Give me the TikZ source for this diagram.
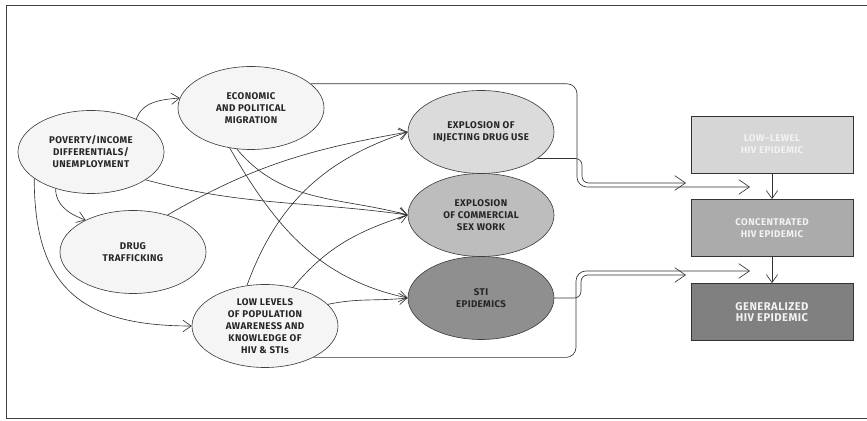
\documentclass[tikz,border=0pt]{standalone}
\usepackage{fontspec}
\setsansfont{Fira Sans}[LetterSpace=4]
\usetikzlibrary{shapes.geometric,arrows.meta}

\definecolor{causefill}{gray}{0.96}
\definecolor{iducol}{gray}{0.86}
\definecolor{sexcol}{gray}{0.74}
\definecolor{sticol}{gray}{0.56}
\definecolor{lowcol}{gray}{0.84}
\definecolor{conccol}{gray}{0.67}
\definecolor{gencol}{gray}{0.50}

\begin{document}
\begin{tikzpicture}[x=0.3mm, y=0.3mm,
  every node/.style={font=\sffamily\bfseries\fontsize{8.3}{10.3}\selectfont, align=center, text=black!85},
  cause/.style={ellipse, draw=black!75, line width=0.55pt, fill=causefill, minimum width=43.8mm, minimum height=24.9mm, inner sep=0pt},
  effect/.style={cause, fill=#1},
  stage/.style={rectangle, draw=black!80, line width=0.7pt, fill=#1, minimum width=48.6mm, minimum height=17.1mm, text=white!95!black},
  link/.style={draw=black!80, line width=0.55pt, -{Straight Barb[length=2.4mm,width=3.4mm]}},
  lane/.style={draw=black!80, line width=0.55pt, rounded corners=3mm, -{Straight Barb[length=3.2mm,width=4.4mm]}}
]
\useasboundingbox (0,0) rectangle (867,421);

% Frame
\draw[black!75, line width=0.8pt] (867,416) -- (6,416) -- (6,3) -- (867,3);

% Causes
\node[cause] (poverty) at (91,269) {POVERTY/INCOME\\DIFFERENTIALS/\\UNEMPLOYMENT};
\node[cause] (migration) at (251,313) {ECONOMIC\\AND POLITICAL\\MIGRATION};
\node[cause] (drugs) at (133,169) {DRUG\\TRAFFICKING};
\node[cause] (awareness) at (265,95) {LOW LEVELS\\OF POPULATION\\AWARENESS AND\\KNOWLEDGE OF\\HIV \& STIs};

% Effects
\node[effect=iducol] (idu) at (481,289) {EXPLOSION OF\\INJECTING DRUG USE};
\node[effect=sexcol] (sexwork) at (481,206) {EXPLOSION\\OF COMMERCIAL\\SEX WORK};
\node[effect=sticol] (sti) at (481,123) {STI\\EPIDEMICS};

% Stages of the epidemic
\node[stage=lowcol] (lowlevel) at (772,276.5) {LOW–LEWEL\\HIV EPIDEMIC};
\node[stage=conccol] (concentrated) at (772,193) {CONCENTRATED\\HIV EPIDEMIC};
\node[stage=gencol, font=\sffamily\bfseries\fontsize{9.6}{10}\selectfont] (generalized) at (772,109) {GENERALIZED\\HIV EPIDEMIC};

% Ends of the long lanes
\coordinate (ecoturn) at (577,234);
\coordinate (ecoend) at (750,234);
\coordinate (iduturn) at (582,238);
\coordinate (iduend) at (686,238);
\coordinate (awturn) at (576,150);
\coordinate (awend) at (750,150);
\coordinate (stiturn) at (581,146);
\coordinate (stiend) at (686,146);

% Causes to causes
\draw[link] (poverty.36) to[out=70, in=185] (migration.172);
\draw[link] (poverty.226) to[out=-90, in=160] (drugs.146);
\draw[link] (poverty.205) to[out=-90, in=180, looseness=1.3] (awareness.west);

% Causes to effects
\draw[link] (poverty.333) to[out=-15, in=172] (sexwork.west);
\draw[link] (migration.251) to[out=-50, in=165] (sexwork.west);
\draw[link] (migration.242) to[out=-60, in=168] (sti.west);
\draw[link] (drugs.47) to[out=30, in=190] (idu.west);
\draw[link] (awareness.114) to[out=70, in=198] (idu.west);
\draw[link] (awareness.54) to[out=50, in=198] (sexwork.west);
\draw[link] (awareness.19) to[out=12, in=186] (sti.west);

% Lanes to the stages
\draw[lane] (migration.22) -| (ecoturn) -- (ecoend);
\draw[lane, rounded corners=2mm] (idu.335) -| (iduturn) -- (iduend);
\draw[lane] (awareness.327) -| (awturn) -- (awend);
\draw[lane, rounded corners=2mm] (sti.east) -| (stiturn) -- (stiend);

% Stage to stage
\draw[link] (lowlevel) -- (concentrated);
\draw[link] (concentrated) -- (generalized);

\end{tikzpicture}
\end{document}
